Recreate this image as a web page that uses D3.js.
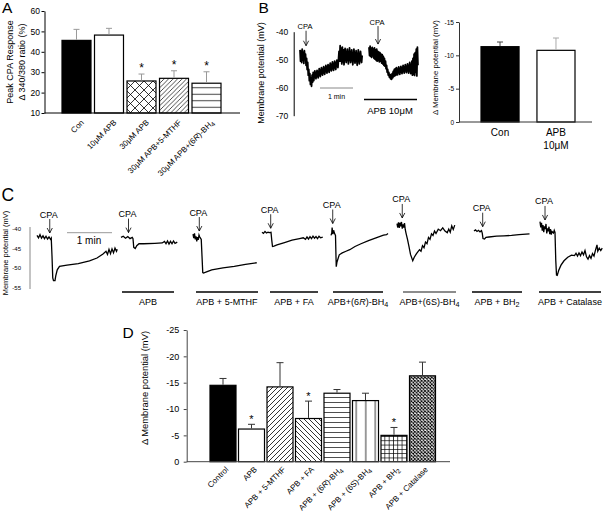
<!DOCTYPE html>
<html>
<head>
<meta charset="utf-8">
<script src="https://cdn.jsdelivr.net/npm/d3@7"></script>
<style>
body { margin: 0; background: #fff; }
svg { display: block; }
text { font-family: "Liberation Sans", Arial, sans-serif; }
</style>
</head>
<body>
<svg id="fig" width="603" height="512"></svg>
<script>

// ---------- data ----------

// panel A : peak CPA response (% of 340/380 ratio)
var aCats = ["Con", "10μM APB", "30μM APB", "30μM APB+5-MTHF", "30μM APB+(6<i>R</i>)-BH<sub>4</sub>"];
var aVals = [45.6, 48.2, 25.7, 27.0, 24.6];
var aErr = [5.4, 3.3, 3.4, 3.7, 5.6];
var aStar = [false, false, true, true, true];
var aTicks = [10, 20, 30, 40, 50, 60];

// panel B : example traces (seconds, mV) and summary
var bTraceTicks = [-40, -50, -60, -70];
var bTrace1 = [[0,-46.5],[1,-50.5],[2,-47],[3,-51],[4,-46.2],[5,-50.2],[6,-47.5],[7,-51.3],[8,-46.8],[9,-49.5],
  [10,-48],[11,-52],[12,-49.5],[13,-53.5],[14,-51],[15,-55.5],[16,-53.5],[17,-57.5],[18,-55],[19,-58.8],
  [20,-56.5],[21,-59.5],[22,-55.5],[23,-58],[24,-54.5],[25,-57.5],[27,-54],[29,-56.8],[31,-53.8],[33,-56.5],
  [35,-53.2],[37,-56],[39,-52.8],[41,-55.5],[43,-52.5],[45,-55.2],[47,-52],[49,-54.8],[51,-51.8],[53,-54.5],
  [55,-51.2],[57,-54],[59,-50.8],[61,-53.8],[63,-50.5],[65,-53.5],[67,-50.2],[69,-52.8],[71,-47],[72,-50.5],
  [73,-45],[74,-50.5],[75,-46],[76,-51.5],[77,-45.5],[78,-50.8],[79,-46.5],[80,-51.8],[82,-46],[84,-51],
  [86,-46.2],[88,-51.5],[90,-45.8],[92,-51],[94,-46.5],[96,-51.8],[98,-46.2],[100,-51.2],[102,-46.8],[104,-52],
  [106,-46.5],[108,-51.5],[110,-47],[112,-51],[113,-48.5]];
var bTrace2 = [[0,-45.5],[1,-48.5],[2,-45.2],[3,-48.8],[4,-46],[5,-49.2],[6,-45.6],[7,-48.6],[8,-46.3],[9,-49.5],
  [10,-45.8],[11,-49.8],[12,-46.5],[13,-50.2],[14,-46.2],[15,-50.5],[16,-47],[17,-50.3],[18,-47.3],[19,-50.8],
  [20,-47.5],[21,-50.5],[22,-48],[23,-51.2],[24,-48.2],[25,-51.5],[26,-48.8],[27,-52],[28,-49.5],[29,-52.3],
  [30,-50.5],[31,-53.2],[32,-52],[33,-54.5],[34,-53.5],[35,-55.5],[36,-54.5],[37,-56.2],[38,-55.2],[39,-56.8],
  [40,-55.5],[41,-57],[42,-55],[43,-56.5],[44,-54.2],[45,-56],[46,-53.5],[47,-55.8],[48,-53.2],[49,-55.5],
  [50,-52.8],[52,-55.4],[54,-52.6],[56,-55.2],[58,-52.4],[60,-55],[62,-52],[64,-54.8],[66,-51.8],[68,-54.6],
  [70,-51.5],[72,-54.8],[74,-51],[76,-55],[78,-50.5],[79,-55.5],[80,-49.5],[81,-55.2],[82,-48],[83,-55.6],
  [84,-47.5],[85,-54.5],[86,-46.2],[87,-55.8],[88,-45.5],[89,-52]];
var bCpa = [11, 16.4];
var bCats = ["Con", "APB|10μM"];
var bVals = [-11.3, -10.75];
var bErr = [-0.7, -1.85];
var bTicks = [0, -5, -10, -15];

// panel C : traces (seconds, mV)
var cTicks = [-40, -45, -50, -55];
var cLabels = [null, "APB", "APB + 5-MTHF", "APB + FA", "APB+(6<i>R</i>)-BH<sub>4</sub>",
  "APB+(6S)-BH<sub>4</sub>", "APB + BH<sub>2</sub>", "APB + Catalase"];
var cTraces = [
  [[0,-41.8],[2,-42.4],[4,-41.6],[6,-42.5],[8,-41.9],[10,-42.6],[12,-42.0],[14,-42.7],[16,-42.2],[18,-42.8],
   [19,-42.5],[20,-47],[21,-52.5],[22,-53.2],[24,-53.2],[25,-52],[27,-50.5],[30,-49.6],[40,-49.3],[55,-48.9],
   [70,-48.2],[80,-47.5],[88,-46.5],[92,-45.8],[94,-46.6],[96,-45.3],[98,-46.4],[100,-45.2],[102,-46.2],
   [104,-45],[106,-45.8],[107,-45.3]],
  [[0,-42.3],[3,-42.0],[6,-42.5],[9,-42.1],[12,-42.6],[15,-42.3],[16,-42.6],[17,-44.8],[19,-45.1],[21,-44.4],
   [24,-43.9],[30,-43.9],[45,-43.8],[55,-43.7],[58,-43.3],[60,-43.9],[62,-43.2],[64,-44.0],[66,-43.3],
   [68,-43.9],[70,-43.2],[72,-43.8],[75,-43.5]],
  [[0,-41.5],[1,-42.5],[2,-41.3],[3,-42.8],[4,-42],[5,-43.3],[6,-42.2],[7,-42.9],[8,-41.7],[9,-42.2],
   [10,-42.5],[11,-42.8],[12,-47],[13,-51.2],[14,-51.3],[18,-51],[25,-50.5],[40,-50],[55,-49.6],[70,-49.1],
   [85,-48.7]],
  [[0,-41],[2,-41.3],[4,-40.8],[6,-41.2],[8,-41],[10,-41.1],[12,-41],[13,-43],[14,-44.6],[16,-44.5],
   [20,-44.2],[30,-43.6],[40,-43.0],[50,-42.6],[55,-42.4],[58,-42.8],[60,-42.2],[62,-42.7],[64,-42.1],
   [66,-42.6],[68,-42.0],[70,-42.5],[72,-42.1],[74,-42.6],[76,-42.0],[78,-42.4],[81,-42.2]],
  [[0,-41.8],[1,-41.2],[1.5,-39.8],[2.5,-41.5],[3.5,-40.5],[4.5,-41.2],[6,-41.8],[6.5,-46],[7,-49.7],[8,-48.5],
   [11,-46.7],[15,-46.2],[20,-45.8],[25,-45.4],[32,-44.6],[40,-43.9],[50,-43.1],[60,-42.4],[70,-41.7],
   [74,-41.6],[76,-41.3]],
  [[0,-38.8],[1,-39.8],[2,-38.5],[3,-39.9],[4,-38.6],[5,-39.5],[6,-38.4],[7,-40.1],[8,-39.0],[9,-39.8],
   [10,-38.7],[11,-40.3],[12,-41.2],[14,-42.8],[16,-44.6],[18,-46.6],[21,-48.2],[23,-47.3],[26,-46.4],
   [30,-45.4],[32,-45.8],[34,-44.4],[36,-44.9],[38,-43.5],[40,-43.9],[42,-42.3],[44,-42.8],[46,-41.4],
   [48,-41.8],[50,-40.7],[52,-41.3],[55,-40.2],[58,-40.6],[61,-39.9],[64,-40.7],[67,-41.1],[69,-40.2],
   [71,-41.0],[73,-39.4],[75,-40.3],[77,-39.2]],
  [[0,-40.7],[2,-40.4],[4,-40.8],[6,-40.5],[8,-40.9],[10,-40.6],[11,-41.2],[12,-42.6],[14,-42.7],[16,-42.3],
   [20,-42.2],[30,-42.0],[40,-41.9],[50,-41.8],[60,-41.6],[74,-41.4]],
  [[0,-38.3],[1,-39.8],[2,-38.6],[3,-40.6],[4,-39.2],[5,-41.0],[6,-39.5],[7,-40.2],[8,-38.9],[9,-41.3],
   [10,-40.0],[11,-40.8],[12,-39.6],[13,-41.5],[14,-40.2],[15,-41.6],[16,-40.8],[18,-41.2],[19,-40.5],
   [20,-41.0],[21,-48],[22,-51.8],[23,-51.9],[25,-50.6],[28,-49.3],[32,-48.2],[37,-47.3],[42,-46.8],
   [46,-46.9],[48,-46.3],[50,-47.0],[52,-46.2],[54,-46.9],[56,-46.0],[58,-46.7],[60,-45.6],[62,-47.2],
   [64,-47.8],[66,-46.9],[68,-47.6],[70,-46.4],[72,-47.0],[74,-45.5],[76,-44.2],[77,-45.8],[79,-45.0],
   [81,-45.6],[83,-45.0]]
];
var cCpa = [17, 10, 8.4, 11.6, 2.3, 7, 11.6, 6.7];

// panel D : change in membrane potential (mV)
var dCats = ["Control", "APB", "APB + 5-MTHF", "APB + FA", "APB + (6<i>R</i>)-BH<sub>4</sub>",
  "APB + (6S)-BH<sub>4</sub>", "APB + BH<sub>2</sub>", "APB + Catalase"];
var dVals = [-14.5, -6.2, -14.2, -8.2, -13.0, -11.6, -5.0, -16.3];
var dErr = [-1.3, -0.9, -4.6, -3.3, -0.7, -1.4, -1.5, -2.6];
var dStar = [false, true, false, true, false, false, true, false];
var dTicks = [0, -5, -10, -15, -20, -25];

// ---------- drawing ----------

var svg = d3.select("#fig");
var defs = svg.append("defs");

var make_pattern = function(id, size, d, stroke, sw) {
    var p = defs.append("pattern").attr("id", id)
        .attr("patternUnits", "userSpaceOnUse")
        .attr("width", size).attr("height", size);
    p.append("rect").attr("width", size).attr("height", size).attr("fill", "white");
    p.append("path").attr("d", d).attr("stroke", stroke)
        .attr("stroke-width", sw).attr("fill", "none");
};
make_pattern("crossA", 9, "M0,0L9,9M9,0L0,9", "#000", 0.8);
make_pattern("diagA", 4.5, "M0,4.5L4.5,0M-1,1L1,-1M3.5,5.5L5.5,3.5", "#000", 0.7);
make_pattern("hlineA", 6.5, "M0,3.25H6.5", "#444", 1);
make_pattern("diagD", 5, "M0,5L5,0M-1,1L1,-1M4,6L6,4", "#000", 0.8);
make_pattern("backD", 5, "M0,0L5,5M-1,4L1,6M4,-1L6,1", "#000", 0.8);
make_pattern("hlineD", 5, "M0,2.5H5", "#222", 0.8);
make_pattern("vlineD", 9.5, "M4.75,0V9.5", "#222", 0.9);
make_pattern("gridD", 4.3, "M0,2.15H4.3M2.15,0V4.3", "#000", 0.7);
make_pattern("crossD", 3.4, "M0,0L3.4,3.4M3.4,0L0,3.4", "#000", 0.9);

// writes a label with <i> and <sub> bits as tspans
var rich = function(sel, str) {
    var parts = str.split(/(<i>.*?<\/i>|<sub>.*?<\/sub>)/).filter(function(s) { return s.length; });
    var shifted = false;
    parts.forEach(function(p) {
        var ts = sel.append("tspan");
        if (p.indexOf("<sub>") == 0) {
            ts.attr("dy", "0.3em").attr("font-size", "0.8em").text(p.slice(5, -6));
            shifted = true;
            return;
        }
        if (p.indexOf("<i>") == 0) {
            ts.attr("font-style", "italic").text(p.slice(3, -4));
        } else {
            ts.text(p);
        }
        if (shifted) { ts.attr("dy", "-0.24em"); shifted = false; }
    });
};

var label = function(x, y, str, size, anchor, rot) {
    var t = svg.append("text")
        .attr("font-size", size)
        .attr("text-anchor", anchor || "start")
        .attr("fill", "#000");
    if (rot) {
        t.attr("transform", "translate(" + x + "," + y + ") rotate(" + rot + ")");
    } else {
        t.attr("x", x).attr("y", y);
    }
    rich(t, str);
    return t;
};

var style_axis = function(g, size, color) {
    g.attr("font-family", null).attr("font-size", null);
    g.selectAll("text").attr("font-size", size).attr("fill", "#000");
    g.selectAll("line").attr("stroke", color);
    g.select(".domain").attr("stroke", color);
};

var bar_chart = function(o) {
    var x = d3.scaleBand().domain(d3.range(o.vals.length)).range(o.range).paddingInner(o.pad);
    var g = svg.append("g");
    var y0 = o.y(o.base);
    g.selectAll("rect").data(o.vals).enter().append("rect")
        .attr("x", function(d, i) { return x(i); })
        .attr("width", x.bandwidth())
        .attr("y", function(d) { return Math.min(o.y(d), y0); })
        .attr("height", function(d) { return Math.abs(y0 - o.y(d)); })
        .attr("fill", function(d, i) { return o.fills[i]; })
        .attr("stroke", "#000").attr("stroke-width", 1.2);
    o.vals.forEach(function(v, i) {
        var cx = x(i) + x.bandwidth() / 2;
        var top = o.y(v + o.errs[i]);
        var col = o.errColor[i];
        g.append("line").attr("x1", cx).attr("x2", cx)
            .attr("y1", o.y(v) - 0.6).attr("y2", top)
            .attr("stroke", col).attr("stroke-width", 1);
        g.append("line").attr("x1", cx - o.cap / 2).attr("x2", cx + o.cap / 2)
            .attr("y1", top).attr("y2", top)
            .attr("stroke", col).attr("stroke-width", 1);
        if (o.stars && o.stars[i]) {
            g.append("text").attr("x", cx).attr("y", top + o.starDy)
                .attr("text-anchor", "middle").attr("font-size", o.starSize)
                .attr("fill", "#000").text("*");
        }
    });
    return x;
};

var arrow = function(x, tip, len, text, size) {
    var g = svg.append("g").attr("stroke", "#000").attr("stroke-width", 0.8).attr("fill", "none");
    g.append("line").attr("x1", x).attr("x2", x).attr("y1", tip - len).attr("y2", tip);
    g.append("path").attr("d", "M" + (x - 2.6) + "," + (tip - 5) + "L" + x + "," + tip + "L" + (x + 2.6) + "," + (tip - 5));
    svg.append("text").attr("x", x - 1).attr("y", tip - len - 1.5)
        .attr("text-anchor", "middle").attr("font-size", size).attr("fill", "#000").text(text);
};

var peak_near = function(trace, t, w) {
    var near = trace.filter(function(p) { return Math.abs(p[0] - t) <= w; });
    return d3.max(near, function(p) { return p[1]; });
};

// ---- panel A ----
label(2, 12.7, "A", 15.5);
var yA = d3.scaleLinear().domain([10, 60]).range([113, 11]);
var gA = svg.append("g").attr("transform", "translate(44.5,0)")
    .call(d3.axisLeft(yA).tickValues(aTicks).tickSize(3).tickPadding(1.5).tickSizeOuter(0));
style_axis(gA, 8.5, "#000");
var xA = bar_chart({
    vals: aVals, errs: aErr, stars: aStar, base: 10, y: yA,
    range: [62, 221], pad: 0.108, cap: 6,
    fills: ["#000", "#fff", "url(#crossA)", "url(#diagA)", "url(#hlineA)"],
    errColor: ["#999", "#999", "#999", "#999", "#999"],
    starDy: -2, starSize: 12
});
svg.append("line").attr("x1", 44.5).attr("x2", 240).attr("y1", 113).attr("y2", 113)
    .attr("stroke", "#000").attr("stroke-width", 1);
aCats.forEach(function(c, i) {
    label(xA(i) + xA.bandwidth() / 2 + 8, 123, c, 8, "end", -45);
});
label(13, 62, "Peak CPA Response", 9, "middle", -90);
label(25, 62, "Δ 340/380 ratio (%)", 9, "middle", -90);

// ---- panel B traces ----
label(258.5, 12.7, "B", 15.5);
var yBT = d3.scaleLinear().domain([-40, -70]).range([31.7, 115.7]);
var gBT = svg.append("g").attr("transform", "translate(293.7,0)")
    .call(d3.axisLeft(yBT).tickValues(bTraceTicks).tickSize(0).tickPadding(5.5).tickFormat(String));
style_axis(gBT, 8.5, "#000");
label(264, 73, "Membrane potential (mV)", 9, "middle", -90);

var bStart = [300, 369];
[bTrace1, bTrace2].forEach(function(tr, k) {
    var xT = d3.scaleLinear().domain([0, 60]).range([bStart[k], bStart[k] + 33]);
    var ln = d3.line().x(function(p) { return xT(p[0]); }).y(function(p) { return yBT(p[1]); });
    svg.append("path").attr("d", ln(tr)).attr("fill", "none")
        .attr("stroke", "#000").attr("stroke-width", 1.8).attr("stroke-linejoin", "round");
    arrow(xT(bCpa[k]), yBT(peak_near(tr, bCpa[k], 4)) - 5, 15 + k * 3, "CPA", 7.5);
});
svg.append("line").attr("x1", 320).attr("x2", 353).attr("y1", 88).attr("y2", 88)
    .attr("stroke", "#888").attr("stroke-width", 1);
label(336.5, 99, "1 min", 7, "middle");
svg.append("line").attr("x1", 364).attr("x2", 417).attr("y1", 99.5).attr("y2", 99.5)
    .attr("stroke", "#000").attr("stroke-width", 1.5);
label(390, 114, "APB 10μM", 9.5, "middle");

// ---- panel B summary ----
var yB = d3.scaleLinear().domain([0, -15]).range([122, 22]);
var gB = svg.append("g").attr("transform", "translate(459,0)")
    .call(d3.axisLeft(yB).tickValues(bTicks).tickSize(3).tickPadding(2).tickSizeOuter(0).tickFormat(String));
style_axis(gB, 6.5, "#333");
var xB = bar_chart({
    vals: bVals, errs: bErr, base: 0, y: yB,
    range: [481, 575], pad: 0.32, cap: 6,
    fills: ["#000", "#fff"], errColor: ["#444", "#aaa"]
});
svg.append("line").attr("x1", 459).attr("x2", 592).attr("y1", 122).attr("y2", 122)
    .attr("stroke", "#333").attr("stroke-width", 1);
bCats.forEach(function(c, i) {
    c.split("|").forEach(function(line, j) {
        label(xB(i) + xB.bandwidth() / 2, 136 + j * 13, line, 10, "middle");
    });
});
label(438, 67.5, "Δ Membrane potential (mV)", 7.8, "middle", -90);

// ---- panel C ----
label(1.5, 201, "C", 17.5);
var yC = d3.scaleLinear().domain([-40, -55]).range([228.3, 287.7]);
var gC = svg.append("g").attr("transform", "translate(30,0)")
    .call(d3.axisLeft(yC).tickValues(cTicks).tickSize(0).tickPadding(9).tickFormat(String));
style_axis(gC, 6, "#888");
gC.select(".domain").attr("d", "M0,227V289");
label(8, 253, "Membrane potential (mV)", 7.5, "middle", -90);

var cStart = [37, 121, 193, 262, 331, 397, 474, 540];
var cBars = [null, [122, 174], [196, 258], [270, 318], [333, 383], [403, 456], [472, 522], [539, 601]];
var cBarColor = ["#000", "#000", "#000", "#000", "#000", "#666", "#000", "#000"];
cTraces.forEach(function(tr, k) {
    var xT = d3.scaleLinear().domain([0, 60]).range([cStart[k], cStart[k] + 45]);
    var ln = d3.line().x(function(p) { return xT(p[0]); }).y(function(p) { return yC(p[1]); });
    svg.append("path").attr("d", ln(tr)).attr("fill", "none")
        .attr("stroke", "#000").attr("stroke-width", 1.3);
    arrow(xT(cCpa[k]), yC(peak_near(tr, cCpa[k], 4)) - 4, 14, "CPA", 9);
    if (cBars[k]) {
        svg.append("line").attr("x1", cBars[k][0]).attr("x2", cBars[k][1])
            .attr("y1", 292).attr("y2", 292)
            .attr("stroke", cBarColor[k]).attr("stroke-width", 1.3);
        label((cBars[k][0] + cBars[k][1]) / 2, 305, cLabels[k], 9, "middle");
    }
});
svg.append("line").attr("x1", 67).attr("x2", 112).attr("y1", 232.7).attr("y2", 232.7)
    .attr("stroke", "#999").attr("stroke-width", 1);
label(89, 243.5, "1 min", 10, "middle");

// ---- panel D ----
label(122.5, 337.7, "D", 15.5);
var yD = d3.scaleLinear().domain([0, -25]).range([461.7, 330]);
var gD = svg.append("g").attr("transform", "translate(186.7,0)")
    .call(d3.axisLeft(yD).tickValues(dTicks).tickSize(3).tickPadding(4.5).tickSizeOuter(0).tickFormat(String));
style_axis(gD, 9, "#444");
var xD = bar_chart({
    vals: dVals, errs: dErr, stars: dStar, base: 0, y: yD,
    range: [210, 435.5], pad: 0.0877, cap: 7,
    fills: ["#000", "#fff", "url(#diagD)", "url(#backD)", "url(#hlineD)", "url(#vlineD)", "url(#gridD)", "url(#crossD)"],
    errColor: ["#333", "#333", "#333", "#333", "#333", "#333", "#333", "#333"],
    starDy: -1, starSize: 11
});
svg.append("line").attr("x1", 186.7).attr("x2", 450).attr("y1", 461.7).attr("y2", 461.7)
    .attr("stroke", "#444").attr("stroke-width", 1);
dCats.forEach(function(c, i) {
    label(xD(i) + xD.bandwidth() / 2 + 6, 470, c, 8, "end", -45);
});
label(148, 388, "Δ Membrane potential (mV)", 9.4, "middle", -90);

</script>
</body>
</html>
